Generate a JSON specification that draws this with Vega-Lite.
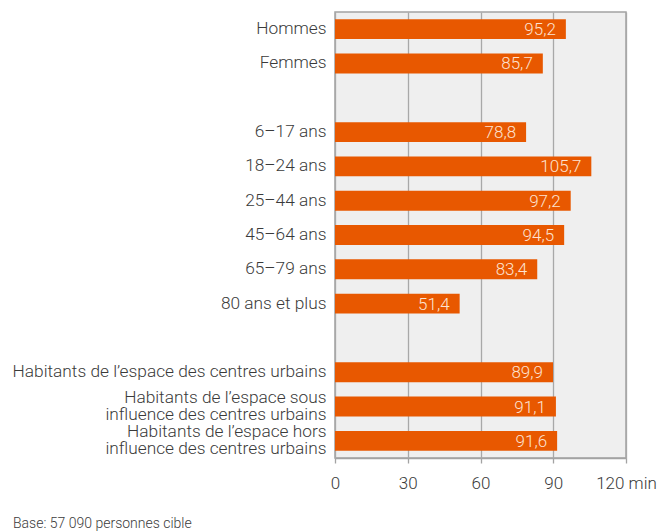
{
  "$schema": "https://vega.github.io/schema/vega-lite/v6.json",
  "width": 291,
  "height": 446,
  "autosize": {"type": "none"},
  "padding": {"left": 335, "top": 12, "right": 46, "bottom": 73},
  "background": "white",
  "config": {
    "font": "Roboto",
    "view": {"fill": "#efefef", "stroke": "#a3a3a3", "strokeWidth": 1.5},
    "locale": {"number": {"decimal": ",", "thousands": " ", "grouping": [3], "currency": ["", " €"]}}
  },
  "title": {
    "text": "Base: 57 090 personnes cible",
    "orient": "bottom",
    "anchor": "start",
    "frame": "group",
    "baseline": "middle",
    "font": "Roboto",
    "fontSize": 14,
    "fontWeight": 300,
    "color": "#3c3c3c",
    "dx": -322,
    "offset": 33
  },
  "data": {
    "values": [
      {"groupe": "Hommes", "minutes": 95.2},
      {"groupe": "Femmes", "minutes": 85.7},
      {"groupe": "6–17 ans", "minutes": 78.8},
      {"groupe": "18–24 ans", "minutes": 105.7},
      {"groupe": "25–44 ans", "minutes": 97.2},
      {"groupe": "45–64 ans", "minutes": 94.5},
      {"groupe": "65–79 ans", "minutes": 83.4},
      {"groupe": "80 ans et plus", "minutes": 51.4},
      {"groupe": "Habitants de l’espace des centres urbains", "minutes": 89.9},
      {"groupe": "Habitants de l’espace sous|influence des centres urbains", "minutes": 91.1},
      {"groupe": "Habitants de l’espace hors|influence des centres urbains", "minutes": 91.6}
    ]
  },
  "encoding": {
    "y": {
      "field": "groupe",
      "type": "nominal",
      "scale": {
        "domain": ["Hommes", "Femmes", " ", "6–17 ans", "18–24 ans", "25–44 ans", "45–64 ans", "65–79 ans", "80 ans et plus", "  ", "Habitants de l’espace des centres urbains", "Habitants de l’espace sous|influence des centres urbains", "Habitants de l’espace hors|influence des centres urbains"],
        "paddingInner": 0.42,
        "paddingOuter": 0.21
      },
      "axis": {
        "title": null,
        "domain": false,
        "ticks": false,
        "grid": false,
        "labelPadding": 9,
        "labelFont": "Roboto",
        "labelFontSize": 17.3,
        "labelFontWeight": 300,
        "labelColor": "#3a3a3a",
        "labelLimit": 400,
        "labelLineHeight": 17,
        "labelOffset": {"condition": {"test": "indexof(datum.label, '|') >= 0", "value": -9}, "value": 0},
        "labelExpr": "split(datum.label, '|')"
      }
    },
    "x": {
      "field": "minutes",
      "type": "quantitative",
      "scale": {"domain": [0, 120], "nice": false},
      "axis": {
        "title": null,
        "values": [0, 30, 60, 90, 120],
        "grid": true,
        "gridColor": "#a8a8a8",
        "gridWidth": 1.3,
        "gridOpacity": 1,
        "domain": true,
        "domainColor": "#a3a3a3",
        "domainWidth": 1.5,
        "ticks": true,
        "tickColor": "#a3a3a3",
        "tickWidth": 1.3,
        "tickSize": 5,
        "labelPadding": 12,
        "labelFont": "Roboto",
        "labelFontSize": 17,
        "labelFontWeight": 300,
        "labelColor": "#3a3a3a",
        "labelFlush": false,
        "labelExpr": "datum.value == 120 ? '120 min' : datum.label"
      }
    }
  },
  "layer": [
    {"mark": {"type": "bar", "color": "#e85800"}},
    {
      "mark": {"type": "text", "align": "right", "baseline": "middle", "dx": -10, "dy": 1, "color": "#fde3d2", "font": "Roboto", "fontSize": 17, "fontWeight": 300},
      "encoding": {"text": {"field": "minutes", "type": "quantitative", "format": ".1f"}}
    }
  ]
}
